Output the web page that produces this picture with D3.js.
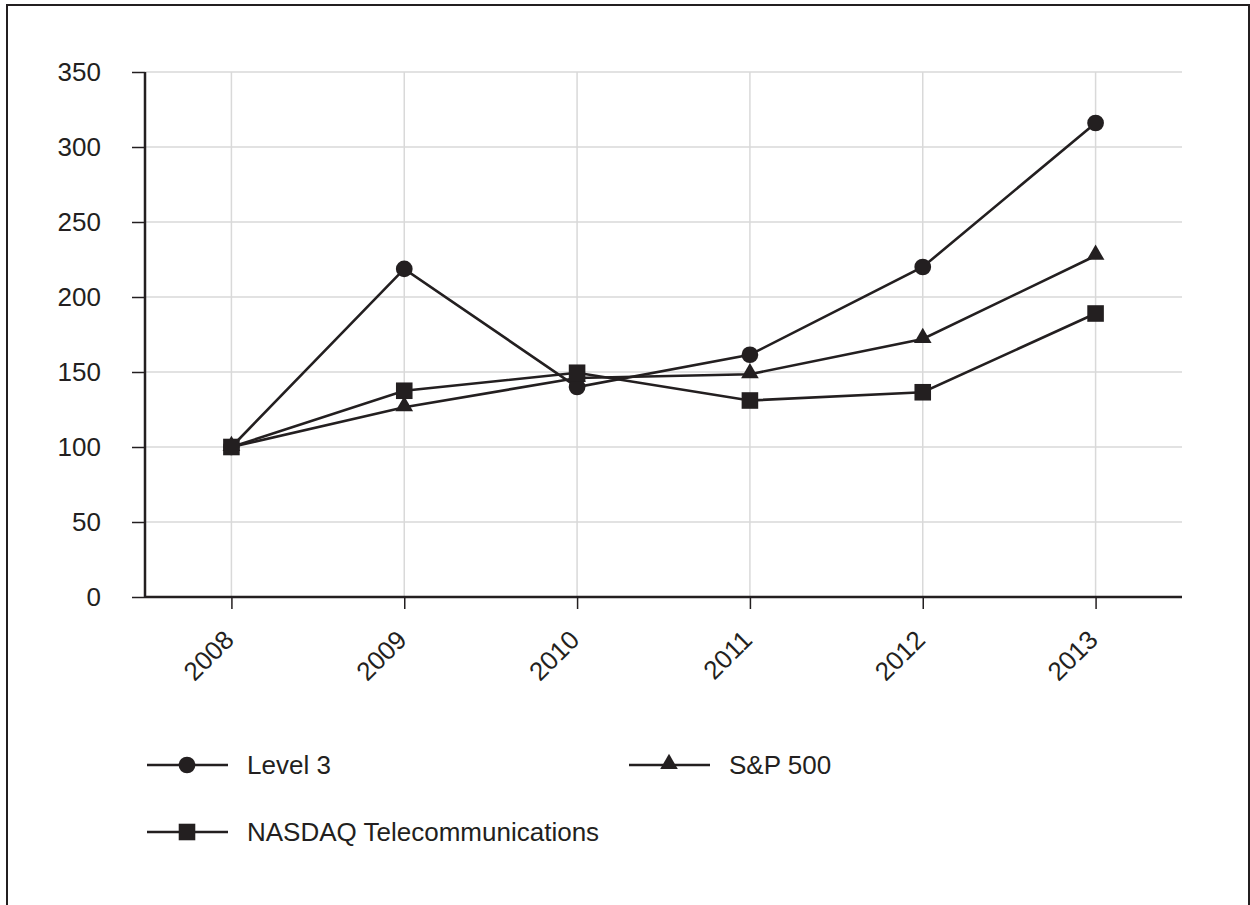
<!doctype html>
<html lang="en">
<head>
	<meta charset="UTF-8">
	<title>Level 3 cumulative return</title>
	<style>
		body { margin: 0; background: #fff; }
		svg { display: block; font-family: "Liberation Sans", Arial, sans-serif; }
	</style>
</head>
<body>
	<script src="https://cdn.jsdelivr.net/npm/d3@7"></script>
	<script>
		var years = ['2008', '2009', '2010', '2011', '2012', '2013'];
		var level3 = [100, 218.7, 140, 161.5, 220, 316];
		var sp500 = [100, 126.5, 146, 148.5, 172, 227.5];
		var nasdaqTel = [100, 137.5, 149.5, 131, 136.5, 189];
		var yTicks = [0, 50, 100, 150, 200, 250, 300, 350];

		var series = [
			{ name: 'Level 3', values: level3, marker: 'circle' },
			{ name: 'S&P 500', values: sp500, marker: 'triangle' },
			{ name: 'NASDAQ Telecommunications', values: nasdaqTel, marker: 'square' }
		];

		var w = 1250, h = 905,
			ink = '#231f20';

		var x = d3.scalePoint().domain(years).range([145, 1182]).padding(0.5);
		var y = d3.scaleLinear().domain([0, 350]).range([597, 72]);

		var svg = d3.select('body').append('svg')
			.attr('width', w)
			.attr('height', h);

		// outer frame
		svg.append('rect')
			.attr('x', 7).attr('y', 5)
			.attr('width', 1242).attr('height', 960)
			.attr('fill', 'none')
			.attr('stroke', ink)
			.attr('stroke-width', 2);

		// grid
		svg.append('g').selectAll('line.h')
			.data(yTicks.slice(1))
			.enter().append('line')
			.attr('x1', 145).attr('x2', 1182)
			.attr('y1', function(d) { return y(d); })
			.attr('y2', function(d) { return y(d); })
			.attr('stroke', '#d9d9d9').attr('stroke-width', 1.5);

		svg.append('g').selectAll('line.v')
			.data(years)
			.enter().append('line')
			.attr('x1', function(d) { return x(d); })
			.attr('x2', function(d) { return x(d); })
			.attr('y1', y(350)).attr('y2', y(0))
			.attr('stroke', '#d9d9d9').attr('stroke-width', 1.5);

		// axes
		var yAxis = d3.axisLeft(y).tickValues(yTicks).tickSize(13).tickPadding(31);
		var gy = svg.append('g').attr('transform', 'translate(145,0)').call(yAxis);
		gy.select('.domain').remove();
		gy.selectAll('.tick line').attr('stroke', ink).attr('stroke-width', 1.5);
		gy.selectAll('.tick text').attr('fill', ink).style('font-size', '26px');

		var xAxis = d3.axisBottom(x).tickSize(12).tickPadding(0);
		var gx = svg.append('g').attr('transform', 'translate(0,' + y(0) + ')').call(xAxis);
		gx.select('.domain').remove();
		gx.selectAll('.tick line').attr('stroke', ink).attr('stroke-width', 1.5);
		gx.selectAll('.tick text')
			.attr('fill', ink)
			.style('font-size', '26px')
			.attr('text-anchor', 'end')
			.attr('dy', '0.35em')
			.attr('transform', 'translate(-3,38) rotate(-45)')
			.attr('y', 0);

		svg.append('line')
			.attr('x1', 145).attr('x2', 145)
			.attr('y1', y(350)).attr('y2', y(0) + 1)
			.attr('stroke', ink).attr('stroke-width', 2.5);
		svg.append('line')
			.attr('x1', 145).attr('x2', 1182)
			.attr('y1', y(0)).attr('y2', y(0))
			.attr('stroke', ink).attr('stroke-width', 2.5);

		// markers
		var symbols = {
			circle: d3.symbol().type(d3.symbolCircle).size(220),
			triangle: d3.symbol().type(d3.symbolTriangle).size(135),
			square: d3.symbol().type(d3.symbolSquare).size(275)
		};

		var line = d3.line()
			.x(function(d, i) { return x(years[i]); })
			.y(function(d) { return y(d); });

		series.forEach(function(s) {
			svg.append('path')
				.attr('d', line(s.values))
				.attr('fill', 'none')
				.attr('stroke', ink)
				.attr('stroke-width', 2.6);
		});

		series.forEach(function(s) {
			svg.append('g').selectAll('path')
				.data(s.values)
				.enter().append('path')
				.attr('d', symbols[s.marker])
				.attr('transform', function(d, i) {
					var dy = s.marker == 'triangle' ? -1 : 0;
					return 'translate(' + x(years[i]) + ',' + (y(d) + dy) + ')';
				})
				.attr('fill', ink);
		});

		// legend
		var legendPos = [[147, 765], [629, 765], [147, 832]];
		series.forEach(function(s, i) {
			var p = legendPos[i];
			var g = svg.append('g').attr('transform', 'translate(' + p[0] + ',' + p[1] + ')');
			g.append('line')
				.attr('x1', 0).attr('x2', 81)
				.attr('stroke', ink).attr('stroke-width', 2.5);
			g.append('path')
				.attr('d', symbols[s.marker])
				.attr('transform', 'translate(40,' + (s.marker == 'triangle' ? -1 : 0) + ')')
				.attr('fill', ink);
			g.append('text')
				.attr('x', 100)
				.attr('dy', '0.35em')
				.attr('fill', ink)
				.style('font-size', '26px')
				.text(s.name);
		});
	</script>
</body>
</html>
